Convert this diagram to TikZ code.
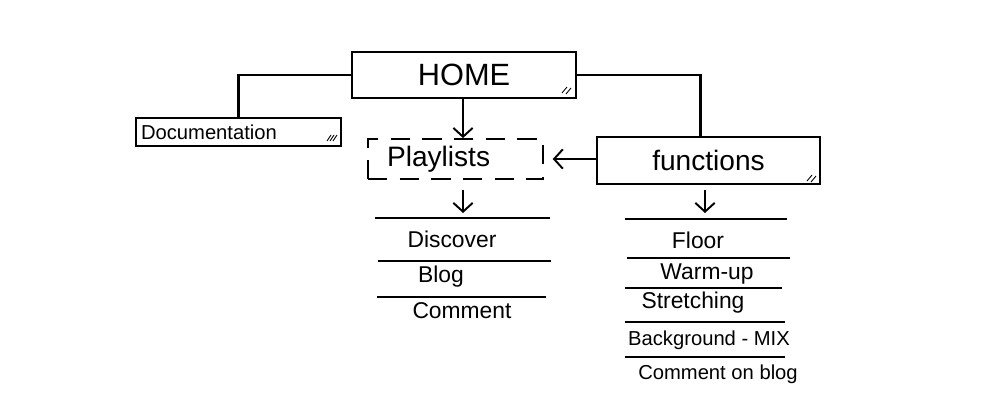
\documentclass[tikz,border=0pt]{standalone}
\usepackage{fontspec}
\setmainfont{Liberation Sans}
\usetikzlibrary{arrows.meta}
\begin{document}
\begin{tikzpicture}[x=0.02cm,y=-0.02cm,
  box/.style={draw,line width=1.2pt,inner sep=0pt},
  dbox/.style={draw,line width=1.1pt,dash pattern=on 11pt off 7pt,inner sep=0pt},
  conn/.style={line width=1.2pt},
  arr/.style={line width=1.1pt,-{Straight Barb[length=5pt,width=11pt]}},
  rule/.style={line width=1.1pt},
  hatch/.style={line width=0.5pt},
  big/.style={font=\fontsize{16}{18}\selectfont},
  huge/.style={font=\fontsize{17.5}{19}\selectfont},
  mid/.style={font=\fontsize{13}{15}\selectfont},
  small/.style={font=\fontsize{11.5}{13}\selectfont}]
\useasboundingbox (0,0) rectangle (1000,409);
\fill[white] (0,0) rectangle (1000,409);

% boxes
\node[box,huge,minimum width=4.48cm,minimum height=0.92cm] (home) at (464,75) {HOME};
\node[box,small,minimum width=4.1cm,minimum height=0.56cm,text width=3.9cm,align=left] (doc) at (238.5,132) {Documentation};
\node[dbox,big,minimum width=3.5cm,minimum height=0.8cm,text width=2.74cm,align=left] (play) at (455.5,159) {Playlists};
\node[box,big,minimum width=4.46cm,minimum height=0.94cm] (func) at (708.5,160.5) {functions};

% corner hatches
\draw[hatch] (562,93) -- (567,87) (566,94) -- (571,88);
\draw[hatch] (327,141) -- (331,135) (330,141) -- (334,135) (333,141) -- (337,135);
\draw[hatch] (807,181) -- (812,175) (811,182) -- (816,176);

% connectors
\draw[conn] (home.west) -| (doc.north);
\draw[conn] (home.east) -| ([xshift=-0.16cm]func.north);
\draw[arr] ([xshift=-0.02cm]home.south) -- ([xshift=-0.02cm]home.south |- play.north);
\draw[arr] (func.west |- play.east) -- ([xshift=5pt]play.east);

\coordinate (p1) at (463,190);
\coordinate (p2) at (463,213);
\draw[arr] (p1) -- (p2);
\coordinate (f1) at (705,190);
\coordinate (f2) at (705,213);
\draw[arr] (f1) -- (f2);

% left list
\draw[rule] (375,218) -- (550,218);
\draw[rule] (378,261) -- (551,261);
\draw[rule] (377,297) -- (546,297);
\node[mid] (discover) at (452,239) {Discover};
\node[mid] (blog) at (441,277) {Blog};
\node[mid] (comment) at (462,311) {Comment};

% right list
\draw[rule] (625,219) -- (787,219);
\draw[rule] (627,258) -- (790,258);
\draw[rule] (625,288) -- (782,288);
\draw[rule] (625,322) -- (785,322);
\draw[rule] (625,357) -- (785,357);
\node[mid] (floor) at (698,240) {Floor};
\node[mid] (warm) at (707,274) {Warm-up};
\node[mid] (stretch) at (693,303) {Stretching};
\node[small] (bgmix) at (709,340) {Background - MIX};
\node[small] (cob) at (718,374) {Comment on blog};
\end{tikzpicture}
\end{document}
